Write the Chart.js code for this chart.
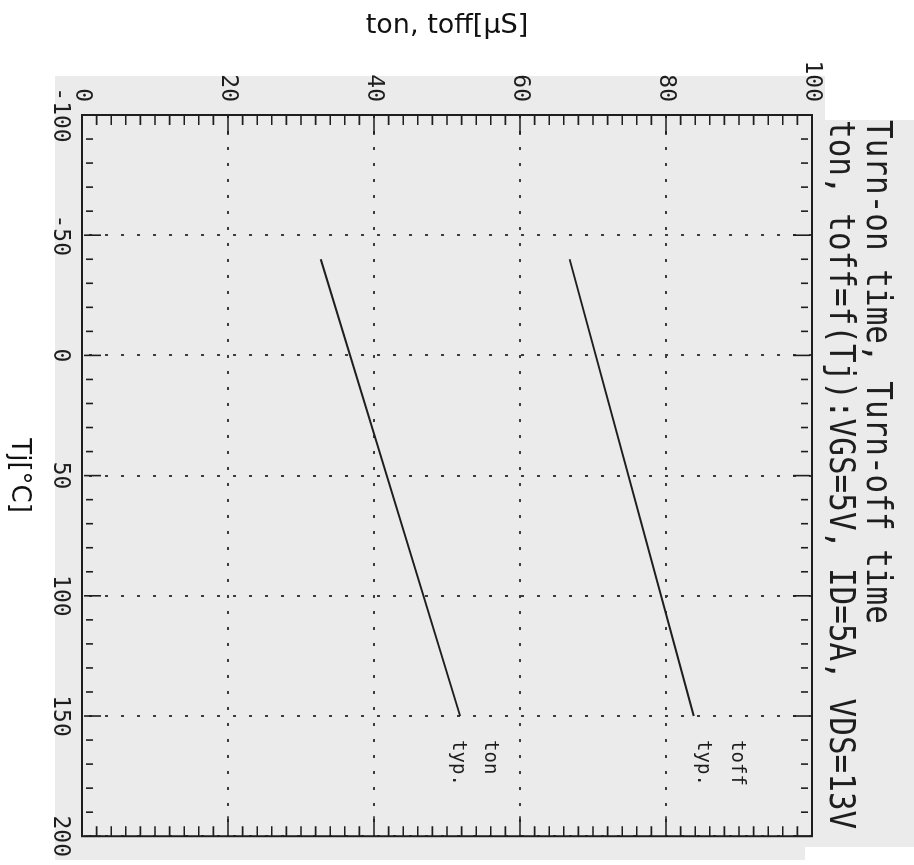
<!DOCTYPE html>
<html lang="en">
<head>
<meta charset="UTF-8" />
<title>Turn-on time, Turn-off time</title>
<script src="https://cdn.jsdelivr.net/npm/chart.js"></script>
<style>
  body { margin: 0; background: #fff; }
  #page { position: relative; width: 914px; height: 865px; overflow: hidden; }
  .paper { position: absolute; background: #ebebeb; }
  .blank { position: absolute; background: #fff; }
  /* the datasheet plot is printed sideways: draw it upright, then turn it a quarter clockwise */
  #turned {
    position: absolute; left: 0; top: 0; width: 865px; height: 914px;
    transform-origin: 0 0; transform: translate(914px, 0) rotate(90deg);
  }
</style>
</head>
<body>
<div id="page">
  <div class="paper" style="left:55px;top:76px;width:859px;height:784px"></div>
  <div class="blank" style="left:825px;top:0;width:89px;height:120px"></div>
  <div class="blank" style="left:805px;top:847px;width:109px;height:18px"></div>
  <div id="turned"><canvas id="chart" width="865" height="914"></canvas></div>
</div>
<script>
  const tjRange = [-100, 200];
  const timeRange = [0, 100];

  const tonTj = [-40, 150];
  const tonTime = [32.7, 51.8];
  const toffTj = [-40, 150];
  const toffTime = [66.8, 83.8];

  const titleLines = [
    "Turn-on time, Turn-off time",
    "ton, toff=f(Tj):VGS=5V, ID=5A, VDS=13V",
  ];
  const noteText = [["ton", "typ."], ["toff", "typ."]];
  const noteTj = [160, 160];
  const noteTime = [[55.9, 51.5], [89.7, 85.1]];

  const ink = "#1e1e1e";
  const mono = "'DejaVu Sans Mono', 'Liberation Mono', monospace";

  // frame, inward tick marks, the heading and the curve notes
  const plotFrame = {
    id: "plotFrame",
    afterDraw(chart) {
      const { ctx, chartArea: a } = chart;
      const x = chart.scales.x;
      const y = chart.scales.y;
      ctx.save();
      ctx.strokeStyle = ink;
      ctx.lineWidth = 2;
      ctx.strokeRect(a.left, a.top, a.right - a.left, a.bottom - a.top);

      ctx.lineWidth = 1.6;
      ctx.beginPath();
      for (let v = tjRange[0]; v <= tjRange[1]; v += 10) {
        const px = x.getPixelForValue(v);
        const major = v % 50 === 0;
        const off = major ? 2 : 4;
        const len = major ? 17 : 7;
        ctx.moveTo(px, a.bottom - off);
        ctx.lineTo(px, a.bottom - off - len);
        ctx.moveTo(px, a.top + off);
        ctx.lineTo(px, a.top + off + len);
      }
      for (let v = timeRange[0]; v <= timeRange[1]; v += 2) {
        const py = y.getPixelForValue(v);
        const len = v % 20 === 0 ? 20 : 10;
        ctx.moveTo(a.left, py);
        ctx.lineTo(a.left + len, py);
        ctx.moveTo(a.right, py);
        ctx.lineTo(a.right - len, py);
      }
      ctx.stroke();

      ctx.fillStyle = ink;
      ctx.textAlign = "left";
      ctx.textBaseline = "alphabetic";
      ctx.font = "31px " + mono;
      const baselines = [47, 84];
      titleLines.forEach((line, i) => {
        ctx.save();
        ctx.translate(a.left + 5, baselines[i]);
        ctx.scale(1, 1.12);
        ctx.fillText(line, 0, 0);
        ctx.restore();
      });

      ctx.font = "19px " + mono;
      ctx.textBaseline = "middle";
      noteText.forEach((lines, i) => {
        lines.forEach((line, j) => {
          ctx.fillText(
            line,
            x.getPixelForValue(noteTj[i]),
            y.getPixelForValue(noteTime[i][j])
          );
        });
      });
      ctx.restore();
    },
  };

  const curve = (tj, time) => ({
    data: tj.map((v, i) => ({ x: v, y: time[i] })),
    showLine: true,
    borderColor: ink,
    borderWidth: 2,
    pointRadius: 0,
  });

  new Chart(document.getElementById("chart"), {
    type: "scatter",
    data: {
      datasets: [
        { label: "ton typ.", ...curve(tonTj, tonTime) },
        { label: "toff typ.", ...curve(toffTj, toffTime) },
      ],
    },
    options: {
      responsive: false,
      animation: false,
      layout: { padding: { top: 102, right: 25, left: 0, bottom: 0 } },
      plugins: {
        legend: { display: false },
        tooltip: { enabled: false },
      },
      scales: {
        x: {
          type: "linear",
          position: "bottom",
          min: tjRange[0],
          max: tjRange[1],
          afterFit: (s) => { s.height = 82; },
          ticks: {
            stepSize: 50,
            padding: 8,
            maxRotation: 0,
            color: ink,
            font: { family: mono, size: 23 },
          },
          grid: { color: "#3c3c3c", lineWidth: 2, drawTicks: false },
          border: { display: false, dash: [3, 13] },
          title: {
            display: true,
            text: "Tj[°C]",
            color: "#111",
            font: { family: "'DejaVu Sans'", size: 26, lineHeight: 1.2 },
            padding: { top: 0, bottom: 3 },
          },
        },
        y: {
          type: "linear",
          position: "left",
          min: timeRange[0],
          max: timeRange[1],
          afterFit: (s) => { s.width = 115; },
          ticks: {
            stepSize: 20,
            padding: 13,
            color: ink,
            font: { family: mono, size: 23 },
          },
          grid: { color: "#3c3c3c", lineWidth: 2, drawTicks: false },
          border: { display: false, dash: [3, 13] },
          title: {
            display: true,
            text: "ton, toff[μS]",
            color: "#111",
            font: { family: "'DejaVu Sans'", size: 27, lineHeight: 1.2 },
            padding: { top: 10, bottom: 0 },
          },
        },
      },
    },
    plugins: [plotFrame],
  });
</script>
</body>
</html>
